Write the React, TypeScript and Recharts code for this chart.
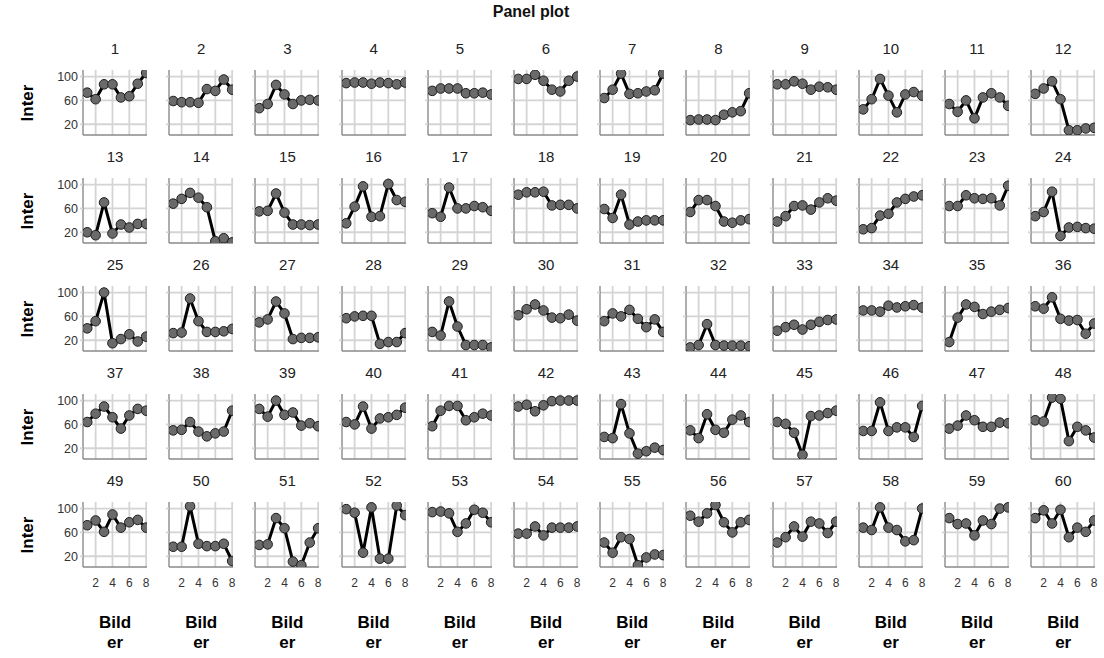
import { LineChart, Line, XAxis, YAxis, CartesianGrid } from 'recharts';

// Bilder 1..8 on the x axis, one small panel per subject
const bilder = [1, 2, 3, 4, 5, 6, 7, 8];
const xTicks = [2, 4, 6, 8];
const yTicks = [20, 40, 60, 80, 100];
const yLabelled = [20, 60, 100];

// Inter values, subjects 1-12
const row1: number[][] = [
  [73, 62, 87, 87, 65, 67, 88, 106],
  [59, 57, 57, 56, 79, 76, 95, 78],
  [47, 54, 86, 70, 54, 60, 61, 60],
  [89, 90, 90, 88, 90, 89, 87, 90],
  [76, 80, 80, 80, 72, 72, 73, 70],
  [96, 96, 103, 93, 78, 75, 93, 100],
  [64, 78, 105, 71, 72, 75, 77, 105],
  [27, 28, 28, 27, 36, 40, 42, 72],
  [87, 87, 92, 88, 78, 83, 82, 78],
  [45, 62, 96, 68, 40, 70, 74, 68],
  [54, 41, 60, 30, 65, 72, 65, 51],
  [71, 80, 92, 62, 10, 10, 13, 14],
];

// subjects 13-24
const row2: number[][] = [
  [20, 15, 70, 18, 33, 28, 34, 34],
  [68, 76, 86, 78, 62, 5, 10, 3],
  [55, 56, 85, 53, 33, 33, 32, 33],
  [35, 63, 97, 46, 47, 101, 74, 71],
  [52, 46, 95, 60, 60, 64, 62, 56],
  [83, 87, 87, 88, 65, 66, 66, 60],
  [59, 44, 83, 33, 38, 40, 40, 40],
  [54, 74, 74, 64, 38, 36, 40, 42],
  [38, 47, 64, 65, 58, 70, 77, 73],
  [25, 27, 48, 51, 70, 76, 80, 82],
  [64, 64, 82, 77, 76, 77, 65, 98],
  [47, 54, 88, 14, 28, 29, 27, 26],
];

// subjects 25-36
const row3: number[][] = [
  [40, 52, 100, 15, 22, 30, 18, 26],
  [32, 33, 90, 52, 34, 34, 35, 39],
  [50, 55, 85, 65, 22, 24, 24, 25],
  [57, 60, 61, 61, 14, 17, 17, 32],
  [34, 28, 85, 43, 12, 12, 12, 8],
  [62, 72, 80, 70, 58, 57, 63, 53],
  [52, 65, 60, 71, 56, 42, 55, 34],
  [8, 12, 47, 12, 11, 11, 11, 10],
  [36, 42, 46, 38, 46, 51, 54, 55],
  [70, 70, 68, 78, 75, 77, 79, 75],
  [17, 58, 80, 76, 64, 68, 71, 74],
  [77, 73, 92, 56, 53, 54, 31, 48],
];

// subjects 37-48
const row4: number[][] = [
  [64, 78, 90, 72, 53, 75, 86, 83],
  [50, 51, 64, 48, 40, 45, 48, 83],
  [86, 73, 100, 76, 80, 58, 62, 57],
  [64, 60, 90, 53, 70, 72, 76, 88],
  [57, 83, 91, 91, 67, 72, 78, 75],
  [90, 93, 82, 92, 99, 100, 100, 100],
  [39, 37, 94, 45, 11, 15, 21, 17],
  [50, 37, 77, 51, 46, 68, 75, 64],
  [64, 61, 46, 9, 74, 75, 79, 83],
  [49, 49, 97, 49, 55, 55, 39, 91],
  [53, 58, 75, 67, 56, 56, 63, 62],
  [67, 65, 105, 103, 32, 56, 50, 38],
];

// subjects 49-60
const row5: number[][] = [
  [72, 80, 61, 90, 68, 77, 81, 68],
  [36, 36, 104, 41, 37, 37, 41, 12],
  [39, 40, 84, 67, 11, 5, 43, 67],
  [99, 93, 26, 102, 16, 16, 105, 89],
  [94, 95, 92, 61, 75, 98, 93, 77],
  [58, 58, 70, 55, 68, 68, 68, 70],
  [43, 26, 52, 49, 5, 18, 23, 22],
  [88, 78, 92, 106, 77, 60, 77, 81],
  [43, 52, 70, 53, 78, 75, 59, 78],
  [68, 64, 102, 68, 64, 45, 47, 100],
  [84, 74, 75, 55, 80, 74, 100, 102],
  [84, 97, 75, 98, 52, 68, 61, 80],
];

const rows = [row1, row2, row3, row4, row5];

const FONT = '"Liberation Sans", Arial, sans-serif';
const PLOT_LEFT = 83;
const COL_STEP = 86.2;
const PLOT_TOP = 70;
const ROW_STEP = 108;
const PLOT_W = 64;
const PLOT_H = 65;
const AXIS_W = 30;
const AXIS_H = 22;
const PAD = 6;

// keeps the tick (and its grid line) but draws no label
const NoLabel = () => <g />;

function Panel({ id, values, row, col }: { id: number; values: number[]; row: number; col: number }) {
  const data = bilder.map((b, i) => ({ bild: b, inter: values[i] }));
  const left = PLOT_LEFT + col * COL_STEP - AXIS_W;
  const top = PLOT_TOP + row * ROW_STEP;
  const showY = col === 0;
  const showX = row === rows.length - 1;

  return (
    <>
      <div
        style={{
          position: 'absolute',
          left: left + AXIS_W,
          top: top - 30,
          width: PLOT_W,
          textAlign: 'center',
          fontSize: 15,
          color: '#222',
        }}
      >
        {id}
      </div>
      <div style={{ position: 'absolute', left, top: top - PAD }}>
        <LineChart
          width={AXIS_W + PLOT_W + PAD}
          height={PLOT_H + AXIS_H + PAD}
          data={data}
          margin={{ top: PAD, right: PAD, bottom: 0, left: 0 }}
        >
          <CartesianGrid
            stroke="#d4d4d4"
            strokeWidth={1.8}
            horizontalValues={yTicks}
            verticalValues={xTicks}
          />
          <XAxis
            dataKey="bild"
            type="number"
            domain={[0.5, 8.1]}
            ticks={xTicks}
            allowDataOverflow
            height={AXIS_H}
            axisLine={{ stroke: '#8a8a8a', strokeWidth: 1.4 }}
            tickLine={false}
            tick={showX ? { fill: '#333', fontSize: 12, fontFamily: FONT } : NoLabel}
            tickMargin={5}
          />
          <YAxis
            type="number"
            domain={[2, 111]}
            ticks={yTicks}
            allowDataOverflow
            width={AXIS_W}
            axisLine={{ stroke: '#8a8a8a', strokeWidth: 1.4 }}
            tickLine={{ stroke: '#d4d4d4', strokeWidth: 1.8 }}
            tickSize={3}
            tick={showY ? { fill: '#333', fontSize: 12.5, fontFamily: FONT } : NoLabel}
            tickFormatter={(v: number) => (yLabelled.includes(v) ? String(v) : '')}
          />
          <Line
            type="linear"
            dataKey="inter"
            stroke="#000"
            strokeWidth={3}
            dot={{ r: 4.8, fill: '#6a6a6a', stroke: '#1e1e1e', strokeWidth: 1 }}
            isAnimationActive={false}
          />
        </LineChart>
      </div>
    </>
  );
}

export default function App() {
  const bottom = PLOT_TOP + (rows.length - 1) * ROW_STEP + PLOT_H;
  return (
    <div
      style={{
        position: 'absolute',
        left: 0,
        top: 0,
        width: 1104,
        height: 658,
        background: '#fff',
        fontFamily: FONT,
        overflow: 'hidden',
      }}
    >
      <div
        style={{
          position: 'absolute',
          left: 0,
          width: 1062,
          top: 3,
          textAlign: 'center',
          fontWeight: 'bold',
          fontSize: 16,
          color: '#111',
        }}
      >
        Panel plot
      </div>

      {rows.map((_, r) => (
        <div
          key={`inter-${r}`}
          style={{
            position: 'absolute',
            left: 28,
            top: PLOT_TOP + r * ROW_STEP + PLOT_H / 2 - 10,
            transform: 'translate(-50%, 0) rotate(-90deg)',
            transformOrigin: 'center center',
            fontWeight: 'bold',
            fontSize: 17,
            color: '#000',
            width: 60,
            textAlign: 'center',
            lineHeight: '20px',
          }}
        >
          Inter
        </div>
      ))}

      {rows.map((subjects, r) =>
        subjects.map((values, c) => (
          <Panel key={r * 12 + c} id={r * 12 + c + 1} values={values} row={r} col={c} />
        ))
      )}

      {rows[0].map((_, c) => (
        <div
          key={`bild-${c}`}
          style={{
            position: 'absolute',
            left: PLOT_LEFT + c * COL_STEP,
            width: PLOT_W,
            top: bottom + 46,
            textAlign: 'center',
            fontWeight: 'bold',
            fontSize: 17,
            lineHeight: '20px',
            color: '#000',
          }}
        >
          Bild
          <br />
          er
        </div>
      ))}
    </div>
  );
}
